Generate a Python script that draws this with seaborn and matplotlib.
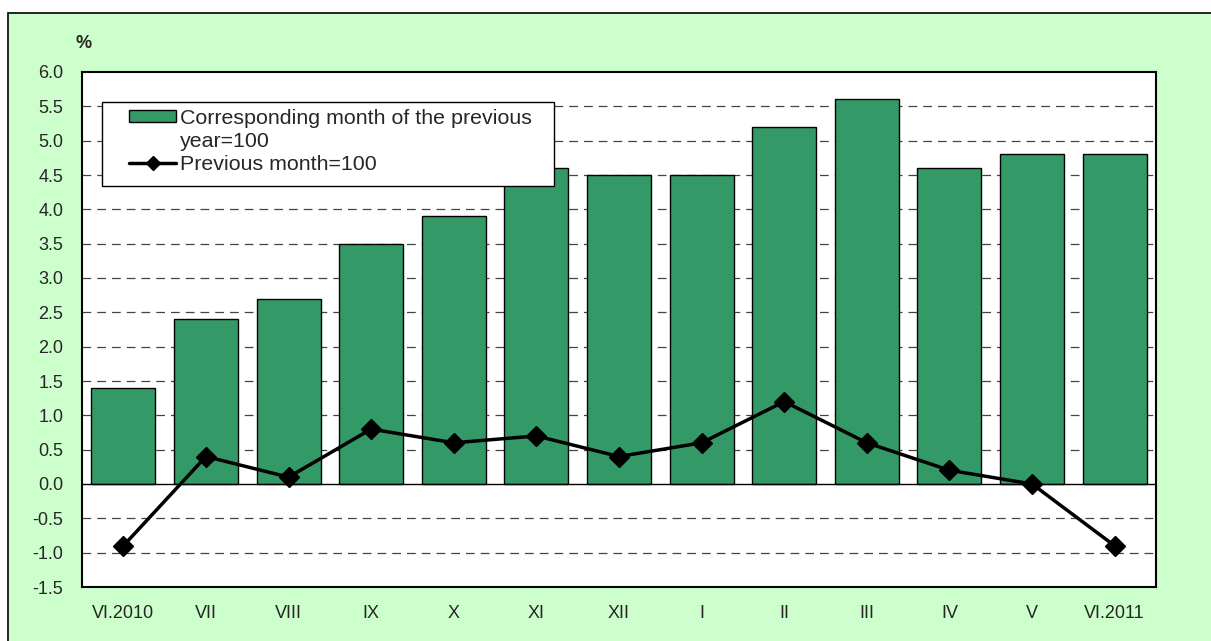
import matplotlib
matplotlib.use('Agg')
import matplotlib.pyplot as plt
import seaborn as sns
import pandas as pd
from matplotlib.patches import Rectangle
from matplotlib.lines import Line2D

months = ['VI.2010', 'VII', 'VIII', 'IX', 'X', 'XI', 'XII', 'I', 'II', 'III', 'IV', 'V', 'VI.2011']
prev_year = [1.4, 2.4, 2.7, 3.5, 3.9, 4.6, 4.5, 4.5, 5.2, 5.6, 4.6, 4.8, 4.8]
prev_month = [-0.9, 0.4, 0.1, 0.8, 0.6, 0.7, 0.4, 0.6, 1.2, 0.6, 0.2, 0.0, -0.9]
y_ticks = [-1.5, -1.0, -0.5, 0.0, 0.5, 1.0, 1.5, 2.0, 2.5, 3.0, 3.5, 4.0, 4.5, 5.0, 5.5, 6.0]

bar_label = 'Corresponding month of the previous'
bar_label2 = 'year=100'
line_label = 'Previous month=100'

sns.set_style('white')
plt.rcParams['font.family'] = ['Liberation Sans', 'DejaVu Sans']

df = pd.DataFrame({'month': months, 'prev_year': prev_year, 'prev_month': prev_month})

fig = plt.figure(figsize=(12.11, 6.41), dpi=100)
fig.patch.set_facecolor('white')
# green panel with black frame
fig.patches.append(Rectangle((8 / 1211, -0.01), 1.02, (641 - 13) / 641 + 0.01,
                             transform=fig.transFigure, facecolor='#CCFFCC',
                             edgecolor='black', linewidth=1.2, zorder=-10))

ax = fig.add_axes([82 / 1211, 54 / 641, 1074 / 1211, 515 / 641])
ax.set_facecolor('white')

sns.barplot(data=df, x='month', y='prev_year', color='#339966', saturation=1,
            edgecolor='black', linewidth=1.0, width=0.775, ax=ax, zorder=2)
ax.plot(df['month'], df['prev_month'], color='black', linewidth=2.5, marker='D',
        markersize=10, zorder=4)

ax.axhline(0, color='black', linewidth=1.0, zorder=3)
for v in y_ticks:
    if -1.5 < v < 6.0 and v != 0.0:
        ax.axhline(v, color='#444444', linewidth=0.9, linestyle=(0, (7, 4.8)), zorder=1)

ax.set_ylim(-1.5, 6.0)
ax.set_xlim(-0.5, len(months) - 0.5)
ax.set_yticks(y_ticks)
ax.set_yticklabels([f'{v:.1f}' for v in y_ticks], fontsize=13)
ax.tick_params(axis='x', labelsize=13, length=0, pad=13)
ax.tick_params(axis='y', length=0, pad=13.5)
ax.set_xlabel('')
ax.set_ylabel('')
for s in ax.spines.values():
    s.set_color('black')
    s.set_linewidth(1.5)

fig.text(76 / 1211, 1 - 43 / 641, '%', fontsize=13, fontweight='bold', ha='left', va='center')

# legend: framed box drawn separately so the padding matches
ax.add_patch(Rectangle((0.0186, 0.7786), 0.4209, 0.1631, transform=ax.transAxes,
                       facecolor='white', edgecolor='black', linewidth=1.0, zorder=6))
handles = [Rectangle((0, 0), 1, 1, facecolor='#339966', edgecolor='black', linewidth=1.0),
           Line2D([], [], linestyle='none'),
           Line2D([], [], color='black', linewidth=2.5, marker='D', markersize=7.5)]
leg = ax.legend(handles, [bar_label, bar_label2, line_label], loc='upper left',
                bbox_to_anchor=(0.0438, 0.929), fontsize=15.4, frameon=False,
                borderpad=0, labelspacing=0.19, handlelength=2.2, handleheight=0.55,
                handletextpad=0.2, borderaxespad=0)
leg.set_zorder(7)

fig.savefig('out.png', dpi=100, facecolor=fig.get_facecolor())
